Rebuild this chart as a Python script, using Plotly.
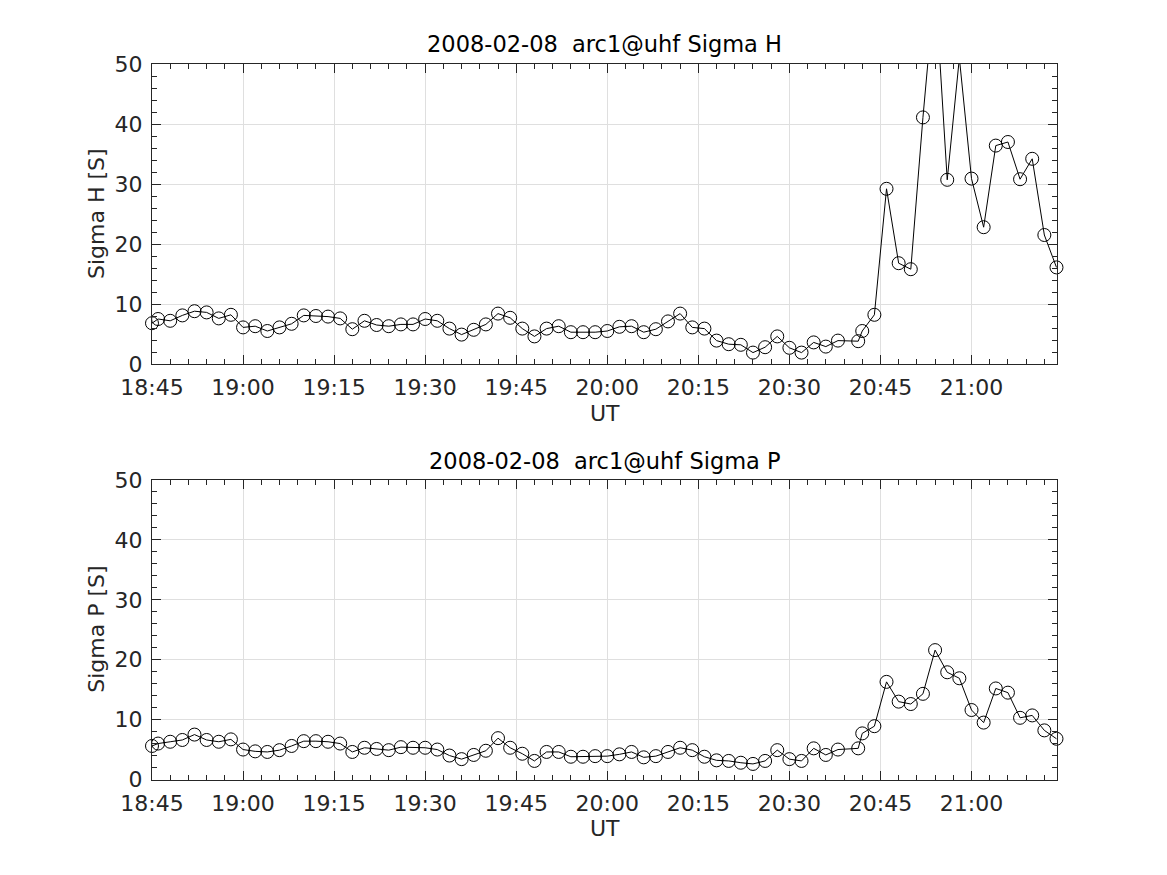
import plotly.graph_objects as go

date = "2008-02-08"
times = ["18:45:00", "18:46:00", "18:48:00", "18:50:00", "18:52:00", "18:54:00", "18:56:00", "18:58:00",
         "19:00:00", "19:02:00", "19:04:00", "19:06:00", "19:08:00", "19:10:00", "19:12:00", "19:14:00",
         "19:16:00", "19:18:00", "19:20:00", "19:22:00", "19:24:00", "19:26:00", "19:28:00", "19:30:00",
         "19:32:00", "19:34:00", "19:36:00", "19:38:00", "19:40:00", "19:42:00", "19:44:00", "19:46:00",
         "19:48:00", "19:50:00", "19:52:00", "19:54:00", "19:56:00", "19:58:00", "20:00:00", "20:02:00",
         "20:04:00", "20:06:00", "20:08:00", "20:10:00", "20:12:00", "20:14:00", "20:16:00", "20:18:00",
         "20:20:00", "20:22:00", "20:24:00", "20:26:00", "20:28:00", "20:30:00", "20:32:00", "20:34:00",
         "20:36:00", "20:38:00", "20:41:20", "20:42:00", "20:44:00", "20:46:00", "20:48:00", "20:50:00",
         "20:52:00", "20:54:00", "20:56:00", "20:58:00", "21:00:00", "21:02:00", "21:04:00", "21:06:00",
         "21:08:00", "21:10:00", "21:12:00", "21:14:00"]

sigma_h = [6.8, 7.5, 7.2, 8.1, 8.8, 8.6, 7.6, 8.2,
           6.1, 6.3, 5.5, 6.1, 6.7, 8.1, 8.0, 7.9,
           7.6, 5.8, 7.2, 6.5, 6.3, 6.6, 6.6, 7.5,
           7.2, 5.9, 4.9, 5.7, 6.6, 8.4, 7.7, 5.9,
           4.6, 5.9, 6.3, 5.3, 5.3, 5.3, 5.5, 6.2,
           6.3, 5.3, 5.8, 7.1, 8.4, 6.1, 5.9, 3.9,
           3.3, 3.2, 1.9, 2.8, 4.6, 2.7, 1.9, 3.6,
           2.9, 3.9, 3.8, 5.5, 8.2, 29.2, 16.8, 15.8,
           41.1, 63.5, 30.7, 51.0, 30.9, 22.8, 36.4, 37.0,
           30.8, 34.2, 21.5, 16.1]

sigma_p = [5.6, 6.0, 6.3, 6.6, 7.5, 6.6, 6.3, 6.7,
           5.0, 4.7, 4.6, 4.9, 5.6, 6.4, 6.4, 6.3,
           6.0, 4.6, 5.3, 5.1, 4.9, 5.4, 5.3, 5.3,
           5.0, 4.0, 3.4, 4.1, 4.8, 6.9, 5.3, 4.3,
           3.1, 4.6, 4.6, 3.8, 3.8, 3.9, 3.9, 4.2,
           4.6, 3.7, 3.9, 4.6, 5.3, 4.9, 3.8, 3.2,
           3.1, 2.8, 2.6, 3.1, 4.9, 3.4, 3.1, 5.2,
           4.1, 5.0, 5.2, 7.7, 8.9, 16.3, 13.0, 12.6,
           14.3, 21.6, 17.9, 16.9, 11.6, 9.5, 15.2, 14.5,
           10.3, 10.7, 8.2, 6.8]

titles = ["2008-02-08  arc1@uhf Sigma H", "2008-02-08  arc1@uhf Sigma P"]
ylabels = ["Sigma H [S]", "Sigma P [S]"]
xlabel = "UT"
y_range = [0, 50]

x = [f"{date} {t}" for t in times]

OFF = 8  # page body margin
W, H = 1167 - OFF, 875 - OFF
FONT = "DejaVu Sans"
AX = "#262626"

fig = go.Figure()
for i, ys in enumerate([sigma_h, sigma_p]):
    suffix = "" if i == 0 else "2"
    # markers whose centre lies outside the y-range are hidden (as MATLAB clips them)
    op = [1 if y_range[0] <= v <= y_range[1] else 0 for v in ys]
    fig.add_trace(go.Scatter(
        x=x, y=ys, mode="lines+markers",
        line=dict(color="black", width=1),
        marker=dict(symbol="circle-open", size=13, color="black", opacity=op,
                    line=dict(width=1, color="black")),
        xaxis="x" + suffix, yaxis="y" + suffix, showlegend=False, cliponaxis=False,
    ))

# axes geometry in window pixels
x0, x1 = 152, 1057
tops = [64, 480]
bots = [364, 779.5]

def px(v):
    return (v - OFF) / W

def py(v):
    return 1 - (v - OFF) / H

common_x = dict(
    type="date", range=[f"{date} 18:45:00", f"{date} 21:14:05"],
    tick0=f"{date} 18:45:00", dtick=15 * 60 * 1000, tickformat="%H:%M",
    ticks="inside", ticklen=9, tickwidth=1, tickcolor=AX,
    showline=True, linecolor=AX, linewidth=1, mirror="allticks",
    showgrid=True, gridcolor="#dfdfdf", gridwidth=1, zeroline=False,
    tickfont=dict(family=FONT, size=22, color=AX),
    minor=dict(ticks="inside", ticklen=5, dtick=3 * 60 * 1000, tickcolor=AX, showgrid=False),
    domain=[px(x0), px(x1)], automargin=False, ticklabelstandoff=4,
)
common_y = dict(
    range=y_range, tick0=0, dtick=10,
    ticks="inside", ticklen=9, tickwidth=1, tickcolor=AX,
    showline=True, linecolor=AX, linewidth=1, mirror="allticks",
    showgrid=True, gridcolor="#dfdfdf", gridwidth=1, zeroline=False,
    tickfont=dict(family=FONT, size=22, color=AX),
    minor=dict(ticks="inside", ticklen=5, dtick=2, tickcolor=AX, showgrid=False),
    automargin=False, ticklabelstandoff=4,
)

fig.update_layout(
    xaxis=dict(common_x, anchor="y"),
    yaxis=dict(common_y, anchor="x", domain=[py(bots[0]), py(tops[0])]),
    xaxis2=dict(common_x, anchor="y2"),
    yaxis2=dict(common_y, anchor="x2", domain=[py(bots[1]), py(tops[1])]),
    width=W, height=H, margin=dict(l=0, r=0, t=0, b=0),
    paper_bgcolor="white", plot_bgcolor="white",
    font=dict(family=FONT, size=22, color=AX),
)

ann = []
cx = px((x0 + x1) / 2)
for i in range(2):
    ann.append(dict(text=titles[i], x=cx, y=py(tops[i] - 19.5), xref="paper", yref="paper",
                    xanchor="center", yanchor="middle", showarrow=False,
                    font=dict(family=FONT, size=22.5, color="black")))
    ann.append(dict(text=xlabel, x=cx, y=py(bots[i] + 49), xref="paper", yref="paper",
                    xanchor="center", yanchor="middle", showarrow=False,
                    font=dict(family=FONT, size=22, color=AX)))
    ann.append(dict(text=ylabels[i], x=px(97), y=py((tops[i] + bots[i]) / 2), xref="paper", yref="paper",
                    xanchor="center", yanchor="middle", showarrow=False, textangle=-90,
                    font=dict(family=FONT, size=22, color=AX)))
fig.update_layout(annotations=ann)

fig.write_html("out.html")
